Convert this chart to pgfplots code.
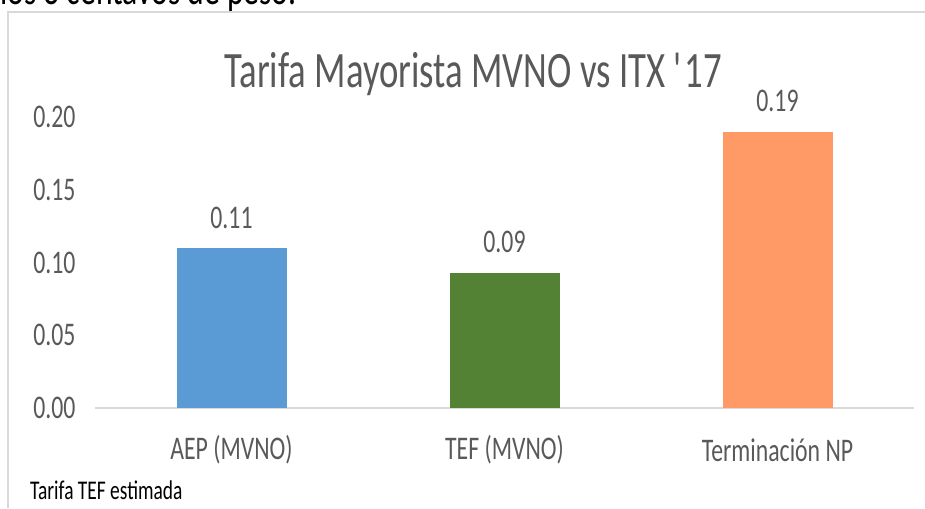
\documentclass[border=0pt]{standalone}
\usepackage{pgfplots}
\pgfplotsset{compat=1.18}
\usepackage{fontspec}
\setmainfont{Carlito}[FakeStretch=0.72]
\definecolor{gridgray}{HTML}{D9D9D9}
\definecolor{txtgray}{HTML}{595959}
\definecolor{cblue}{HTML}{5B9BD5}
\definecolor{cgreen}{HTML}{548235}
\definecolor{corange}{HTML}{FF9966}
\begin{document}
\begin{tikzpicture}[x=1pt,y=1pt]
\useasboundingbox (0,0) rectangle (925,508);
\begin{scope}
\clip (0,0) rectangle (925,508);
\node[anchor=base west, font=\fontsize{44}{46}\selectfont, inner sep=0] at (0,503) {los 3 centavos de peso.};
\end{scope}
\draw[color=gridgray, line width=1.5pt] (8,0) -- (8,496) -- (925,496);
\begin{axis}[
  at={(95pt,100pt)}, anchor=south west,
  scale only axis, width=819pt, height=291pt,
  xmin=-0.5, xmax=2.5, ymin=0, ymax=0.2,
  xtick={0,1,2},
  xticklabels={AEP (MVNO), TEF (MVNO), Terminación NP},
  ytick={0,0.05,0.1,0.15,0.2},
  yticklabel style={/pgf/number format/fixed, /pgf/number format/precision=2, /pgf/number format/fixed zerofill, font=\fontsize{33}{35}\selectfont, text=txtgray, anchor=east, xshift=-16pt},
  /pgf/number format/assume math mode=true,
  xticklabel style={font=\fontsize{33}{35}\selectfont, text=txtgray, anchor=center, yshift=-42pt},
  major tick length=0pt,
  axis lines*=left,
  y axis line style={draw=none},
  x axis line style={draw=gridgray, line width=1.5pt},
  ybar, bar width=110pt,
  nodes near coords,
  every node near coord/.append style={font=\fontsize{33}{35}\selectfont, text=txtgray, /pgf/number format/fixed, /pgf/number format/precision=2, /pgf/number format/fixed zerofill, yshift=16pt},
  clip=false,
  title={Tarifa Mayorista MVNO vs ITX \textquotesingle17},
  title style={font=\fontsize{51}{53}\selectfont, text=txtgray, anchor=center, at={(0.462,1.0)}, yshift=37pt},
]
\addplot[fill=cblue, draw=none, bar shift=0pt] coordinates {(0,0.110)};
\addplot[fill=cgreen, draw=none, bar shift=0pt] coordinates {(1,0.093)};
\addplot[fill=corange, draw=none, bar shift=0pt] coordinates {(2,0.190)};
\end{axis}
\node[anchor=base west, font=\fontsize{27}{29}\selectfont, inner sep=0] at (30,9) {Tarifa TEF estimada};
\end{tikzpicture}
\end{document}
